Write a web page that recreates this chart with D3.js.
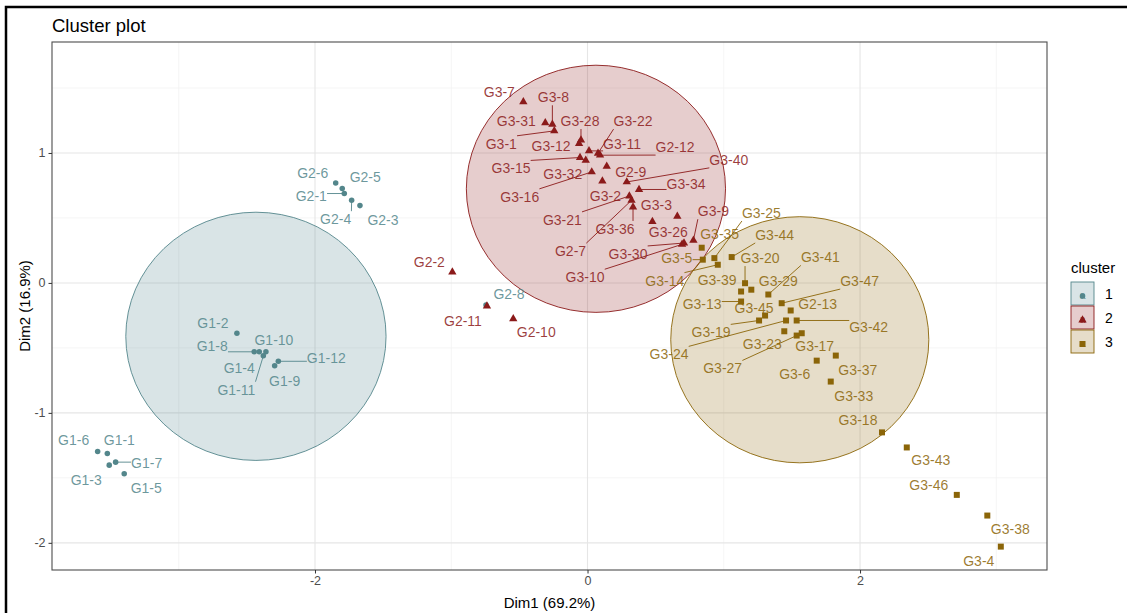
<!DOCTYPE html>
<html>
<head>
<meta charset="utf-8">
<script src="https://cdn.jsdelivr.net/npm/d3@7"></script>
<style>
body { margin: 0; background: #fff; }
text { font-family: "Liberation Sans", Arial, sans-serif; }
</style>
</head>
<body>
<svg id="viz" width="1127" height="613"></svg>
<script>
// samples, their PCA coordinates and the cluster they belong to
const sampleNames = [
  "G1-1","G1-2","G1-3","G1-4","G1-5","G1-6","G1-7","G1-8","G1-9","G1-10","G1-11","G1-12",
  "G2-1","G2-3","G2-4","G2-5","G2-6","G2-8",
  "G2-2","G2-7","G2-9","G2-10","G2-11","G2-12","G3-1","G3-2","G3-3","G3-7","G3-8","G3-9","G3-10",
  "G3-11","G3-12","G3-15","G3-16","G3-21","G3-22","G3-26","G3-28","G3-30","G3-31","G3-32","G3-34","G3-36","G3-40",
  "G2-13","G3-4","G3-5","G3-6","G3-13","G3-14","G3-17","G3-18","G3-19","G3-20","G3-23","G3-24","G3-25","G3-27",
  "G3-29","G3-33","G3-35","G3-37","G3-38","G3-39","G3-41","G3-42","G3-43","G3-44","G3-45","G3-46","G3-47"
]
const dim1 = [
  -3.524,-2.573,-3.510,-2.409,-3.400,-3.595,-3.463,-2.446,-2.296,-2.360,-2.379,-2.269,
  -1.785,-1.670,-1.731,-1.800,-1.848,-0.745,
  -0.992,0.323,0.141,-0.545,-0.738,0.092,-0.244,0.109,0.476,-0.471,-0.258,0.777,0.694,
  0.011,-0.062,-0.055,0.031,0.307,0.077,0.659,-0.048,0.708,-0.310,-0.013,0.378,0.334,0.288,
  1.491,3.033,0.846,1.682,1.127,0.956,1.572,2.161,1.259,1.156,1.444,1.457,0.931,1.535,
  1.202,1.785,0.838,1.822,2.934,1.127,1.327,1.535,2.343,1.058,1.303,2.710,1.425
]
const dim2 = [
  -1.312,-0.387,-1.402,-0.530,-1.469,-1.297,-1.379,-0.530,-0.638,-0.530,-0.561,-0.603,
  0.688,0.595,0.636,0.726,0.769,-0.170,
  0.083,0.636,0.898,-0.276,-0.178,0.983,1.170,0.783,0.472,1.394,1.220,0.328,0.297,
  1.016,1.073,0.965,0.854,0.669,0.998,0.513,1.099,0.307,1.232,0.944,0.719,0.584,0.777,
  -0.212,-2.029,0.179,-0.598,-0.143,0.140,-0.387,-1.150,-0.289,-0.002,-0.372,-0.289,0.191,-0.405,
  -0.052,-0.759,0.271,-0.559,-1.790,-0.066,-0.089,-0.289,-1.266,0.199,-0.251,-1.631,-0.156
]
const clusterOf = [
  1,1,1,1,1,1,1,1,1,1,1,1,
  1,1,1,1,1,1,
  2,2,2,2,2,2,2,2,2,2,2,2,2,
  2,2,2,2,2,2,2,2,2,2,2,2,2,2,
  3,3,3,3,3,3,3,3,3,3,3,3,3,3,
  3,3,3,3,3,3,3,3,3,3,3,3,3
]
const clusterLevels = ["1", "2", "3"]
const ellipseRadius = [0.955, 0.951, 0.947]
const xTicks = [-2, 0, 2]
const yTicks = [-2, -1, 0, 1]
const xMinor = [-3, -1, 1, 3]
const yMinor = [-1.5, -0.5, 0.5, 1.5]

// where the repelled labels ended up, px offset from their point
const labelNudge = {
  "G1-1":[12,-13],"G1-2":[-24,-10],"G1-3":[-23,15],"G1-4":[-20,16],"G1-5":[22,14],"G1-6":[-24,-11],
  "G1-7":[31,1],"G1-8":[-42,-6],"G1-9":[10,15],"G1-10":[8,-12],"G1-11":[-27,34],"G1-12":[48,-3],
  "G2-1":[-33,3],"G2-3":[23,14],"G2-4":[-16,19],"G2-5":[23,-11],"G2-6":[-23,-10],"G2-8":[23,-11],
  "G2-2":[-23,-10],"G2-7":[-61,51],"G2-9":[24,6],"G2-10":[23,13],"G2-11":[-24,15],"G2-12":[75,-8],
  "G3-1":[-53,13],"G3-2":[3,15],"G3-3":[4,-16],"G3-7":[-24,-10],"G3-8":[1,-27],"G3-9":[20,-29],
  "G3-10":[-97,33],"G3-11":[33,-7],"G3-12":[-28,3],"G3-15":[-69,11],"G3-16":[-72,25],"G3-21":[-67,24],
  "G3-22":[35,-32],"G3-26":[-9,16],"G3-28":[-1,-19],"G3-30":[-56,11],"G3-31":[-29,-2],"G3-32":[-23,14],
  "G3-34":[47,-5],"G3-36":[-18,22],"G3-40":[102,-22],
  "G2-13":[27,-6],"G3-4":[-22,14],"G3-5":[-26,-2],"G3-6":[-22,13],"G3-13":[-39,3],"G3-14":[-53,16],
  "G3-17":[13,13],"G3-18":[-24,-12],"G3-19":[-48,12],"G3-20":[15,-25],"G3-23":[-22,13],"G3-24":[-117,34],
  "G3-25":[47,-45],"G3-27":[-74,33],"G3-29":[27,-9],"G3-33":[23,15],"G3-35":[18,-14],"G3-37":[22,15],
  "G3-38":[23,14],"G3-39":[-24,-11],"G3-41":[52,-37],"G3-42":[72,7],"G3-43":[24,13],"G3-44":[43,-22],
  "G3-45":[-11,-7],"G3-46":[-28,-10],"G3-47":[78,-22]
}

const colors = ["#53868B", "#8B1A1A", "#8B6508"]
const shapes = [d3.symbolCircle, d3.symbolTriangle, d3.symbolSquare]
const shapeSize = [24, 30, 36]

var width = 1127, height = 613
var margin = { top: 42, right: 80, bottom: 43, left: 52 }
var panelRight = 1047

var data = sampleNames.map((n, i) => ({ name: n, x: dim1[i], y: dim2[i], c: clusterOf[i] - 1 }))

var x = d3.scaleLinear().domain([-3.93, 3.372]).range([margin.left, panelRight])
var y = d3.scaleLinear().domain([-2.209, 1.854]).range([height - margin.bottom, margin.top])

var svg = d3.select("#viz")

// outer frame of the original figure (only top and left show)
svg.append("rect").attr("x", 6).attr("y", 7).attr("width", 1300).attr("height", 800)
  .attr("fill", "none").attr("stroke", "#000").attr("stroke-width", 2.5)

svg.append("text").attr("x", 52).attr("y", 31.5)
  .attr("font-size", 18.5).attr("fill", "#000").text("Cluster plot")

// grid
var grid = svg.append("g")
grid.selectAll(".minx").data(xMinor).join("line")
  .attr("x1", d => x(d)).attr("x2", d => x(d)).attr("y1", y.range()[0]).attr("y2", y.range()[1])
  .attr("stroke", "#f2f2f2").attr("stroke-width", 0.8)
grid.selectAll(".miny").data(yMinor).join("line")
  .attr("y1", d => y(d)).attr("y2", d => y(d)).attr("x1", x.range()[0]).attr("x2", x.range()[1])
  .attr("stroke", "#f2f2f2").attr("stroke-width", 0.8)
grid.selectAll(".majx").data(xTicks).join("line")
  .attr("x1", d => x(d)).attr("x2", d => x(d)).attr("y1", y.range()[0]).attr("y2", y.range()[1])
  .attr("stroke", "#e6e6e6").attr("stroke-width", 1.1)
grid.selectAll(".majy").data(yTicks).join("line")
  .attr("y1", d => y(d)).attr("y2", d => y(d)).attr("x1", x.range()[0]).attr("x2", x.range()[1])
  .attr("stroke", "#e6e6e6").attr("stroke-width", 1.1)

// cluster circles centred on the cluster means
var centers = clusterLevels.map((l, k) => {
  var pts = data.filter(d => d.c == k)
  return { k: k, cx: d3.mean(pts, d => d.x), cy: d3.mean(pts, d => d.y), r: ellipseRadius[k] }
})
svg.append("g").selectAll("ellipse").data(centers).join("ellipse")
  .attr("cx", d => x(d.cx)).attr("cy", d => y(d.cy))
  .attr("rx", d => x(d.cx + d.r) - x(d.cx)).attr("ry", d => y(d.cy) - y(d.cy + d.r))
  .attr("fill", d => colors[d.k]).attr("fill-opacity", 0.22)
  .attr("stroke", d => colors[d.k]).attr("stroke-width", 0.9)

// labels (measured first so leader lines can start at the box edge)
var segG = svg.append("g")
var ptG = svg.append("g")
var labG = svg.append("g")

var labels = labG.selectAll("text").data(data).join("text")
  .attr("x", d => x(d.x) + labelNudge[d.name][0])
  .attr("y", d => y(d.y) + labelNudge[d.name][1])
  .attr("dy", "0.35em").attr("text-anchor", "middle")
  .attr("font-size", 14).attr("fill", d => colors[d.c]).attr("fill-opacity", 0.85)
  .text(d => d.name)

labels.each(function (d) {
  var b = this.getBBox()
  var px = x(d.x), py = y(d.y)
  var bx = Math.max(b.x, Math.min(px, b.x + b.width))
  var by = Math.max(b.y, Math.min(py, b.y + b.height))
  var len = Math.hypot(px - bx, py - by)
  if (len > 10) {
    segG.append("line").attr("x1", bx).attr("y1", by).attr("x2", px).attr("y2", py)
      .attr("stroke", colors[d.c]).attr("stroke-width", 0.9)
  }
})

ptG.selectAll("path").data(data).join("path")
  .attr("transform", d => `translate(${x(d.x)},${y(d.y)})`)
  .attr("d", d => d3.symbol(shapes[d.c], shapeSize[d.c])())
  .attr("fill", d => colors[d.c])

// panel border
svg.append("rect").attr("x", x.range()[0]).attr("y", y.range()[1])
  .attr("width", x.range()[1] - x.range()[0]).attr("height", y.range()[0] - y.range()[1])
  .attr("fill", "none").attr("stroke", "#4d4d4d").attr("stroke-width", 1.1)

// axes
var fmt = d => String(d)
var xAxis = g => g.attr("transform", `translate(0,${y.range()[0]})`)
  .call(d3.axisBottom(x).tickValues(xTicks).tickFormat(fmt).tickSize(3.5).tickPadding(3))
var yAxis = g => g.attr("transform", `translate(${x.range()[0]},0)`)
  .call(d3.axisLeft(y).tickValues(yTicks).tickFormat(fmt).tickSize(3.5).tickPadding(3))
svg.append("g").call(xAxis)
svg.append("g").call(yAxis)
svg.selectAll(".domain").remove()
svg.selectAll(".tick line").attr("stroke", "#333")
svg.selectAll(".tick text").attr("fill", "#4d4d4d").attr("font-size", 12.5)
  .attr("font-family", "Liberation Sans, Arial, sans-serif")

svg.append("text").attr("x", (x.range()[0] + x.range()[1]) / 2).attr("y", 607.5)
  .attr("text-anchor", "middle").attr("font-size", 15).attr("fill", "#000").text("Dim1 (69.2%)")
svg.append("text")
  .attr("transform", `translate(30,${(y.range()[0] + y.range()[1]) / 2}) rotate(-90)`)
  .attr("text-anchor", "middle").attr("font-size", 15).attr("fill", "#000").text("Dim2 (16.9%)")

// legend
var leg = svg.append("g").attr("transform", "translate(1071,259)")
leg.append("text").attr("x", 0).attr("y", 14).attr("font-size", 15).attr("fill", "#000").text("cluster")
var keys = leg.selectAll(".key").data(clusterLevels).join("g")
  .attr("transform", (d, i) => `translate(0,${23 + i * 24})`)
keys.append("rect").attr("width", 23).attr("height", 23)
  .attr("fill", (d, i) => colors[i]).attr("fill-opacity", 0.22)
  .attr("stroke", (d, i) => colors[i]).attr("stroke-width", 0.9)
keys.append("text").attr("x", 11.5).attr("y", 16.5).attr("text-anchor", "middle")
  .attr("font-size", 11).attr("fill", (d, i) => colors[i]).attr("fill-opacity", 0.8).text("a")
keys.append("path").attr("transform", "translate(11.5,14)")
  .attr("d", (d, i) => d3.symbol(shapes[i], shapeSize[i])()).attr("fill", (d, i) => colors[i])
keys.append("text").attr("x", 34).attr("y", 12).attr("dy", "0.35em")
  .attr("font-size", 14).attr("fill", "#000").text(d => d)
</script>
</body>
</html>
